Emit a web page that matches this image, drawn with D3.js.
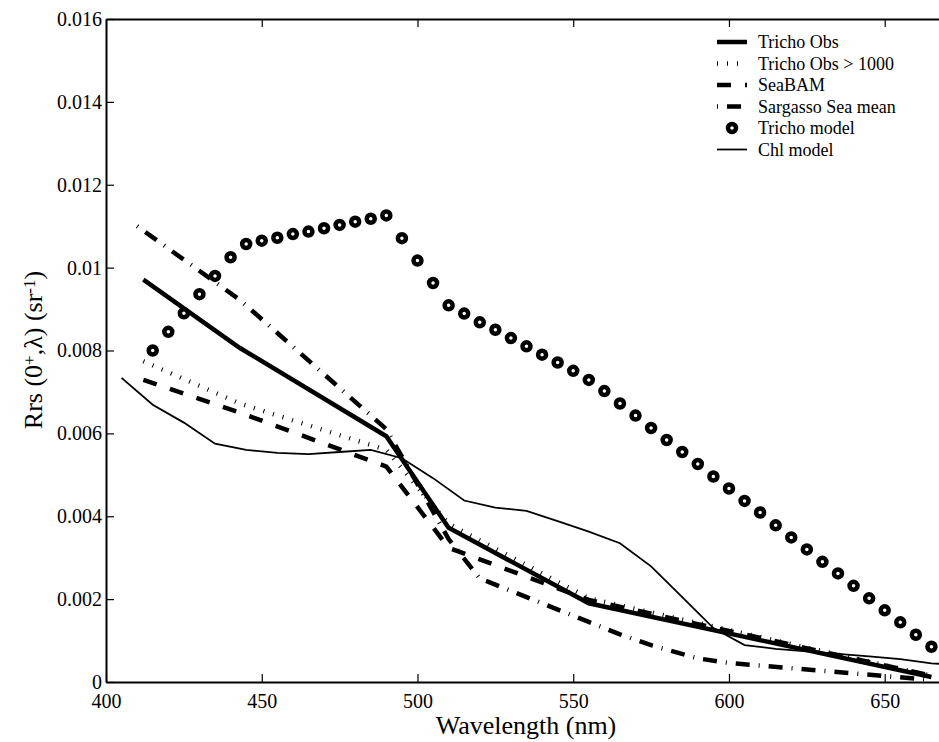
<!DOCTYPE html>
<html>
<head>
<meta charset="utf-8">
<title>Rrs spectra</title>
<style type="text/css">
    body{ margin:0; background:#fff; }
    svg text{ font-family:"Liberation Serif","Times New Roman",serif; fill:#000; }
</style>
</head>
<body>
<div id="chart"></div>

<script src="https://cdn.jsdelivr.net/npm/d3@7"></script>
<script type="text/javascript">

// ---- data (Rrs in sr^-1) ----
var obsWl      = [412, 443, 490, 510, 555, 665];
var trichoObs  = [0.00971, 0.00806, 0.00593, 0.00372, 0.00190, 0.00012];
var tricho1000 = [0.00774, 0.00672, 0.00560, 0.00382, 0.00202, 0.00015];
var seaBAM     = [0.00729, 0.00650, 0.00520, 0.00324, 0.00198, 0.00015];

var sargWl   = [410, 443, 490, 510, 520, 555, 565, 575, 590, 600, 665];
var sargasso = [0.01100, 0.00922, 0.00610, 0.00345, 0.00250, 0.00145, 0.00115, 0.00089, 0.00057, 0.00046, 0.00005];

var chlWl  = [405, 415, 425, 435, 445, 455, 465, 475, 485, 495, 505, 515, 525, 535, 545, 555, 565, 575, 585, 595, 605, 615, 625, 635, 645, 655, 665, 670];
var chlMod = [0.00734, 0.00669, 0.00626, 0.00575, 0.00560, 0.00553, 0.00550, 0.00555, 0.00560, 0.00540, 0.00492, 0.00438, 0.00421, 0.00413, 0.00388, 0.00363, 0.00335, 0.00279, 0.00205, 0.00130, 0.00089, 0.00080, 0.00074, 0.00068, 0.00062, 0.00055, 0.00045, 0.00043];

var modWl = d3.range(415, 666, 5);   // model output every 5 nm, 415..665
var trichoMod = [0.00800, 0.00845, 0.00890, 0.00936, 0.00980, 0.01025, 0.01057, 0.01065, 0.01072, 0.01081,
                 0.01087, 0.01095, 0.01103, 0.01111, 0.01118, 0.01126, 0.01071, 0.01017, 0.00963, 0.00909,
                 0.00889, 0.00868, 0.00850, 0.00830, 0.00810, 0.00790, 0.00771, 0.00751, 0.00729, 0.00702,
                 0.00672, 0.00643, 0.00613, 0.00584, 0.00555, 0.00526, 0.00496, 0.00467, 0.00437, 0.00409,
                 0.00378, 0.00349, 0.00320, 0.00290, 0.00262, 0.00232, 0.00202, 0.00173, 0.00144, 0.00114, 0.00085];

var xTicks = [400, 450, 500, 550, 600, 650];
var yTicks = [0, 0.002, 0.004, 0.006, 0.008, 0.01, 0.012, 0.014, 0.016];
var yTickLabels = ["0", "0.002", "0.004", "0.006", "0.008", "0.01", "0.012", "0.014", "0.016"];

var legendNames = ["Tricho Obs", "Tricho Obs > 1000", "SeaBAM", "Sargasso Sea mean", "Tricho model", "Chl model"];

// ---- size ----  (note: "top" is taken by window.top, so prefix them)
var width = 939, height = 742;
var pLeft = 106, pRight = 947, pTop = 19, pBottom = 682;

var x = d3.scaleLinear().domain([400, 670]).range([pLeft, pRight]);
var y = d3.scaleLinear().domain([0, 0.016]).range([pBottom, pTop]);

var svg = d3.select('#chart').append('svg')
    .attr('width', width)
    .attr('height', height);

/*-----------------------------------------------------------------------
    axes: matlab style box, ticks pointing in
-----------------------------------------------------------------------*/
var tickFont = 20;

svg.append('g').attr('transform', 'translate(0,' + pBottom + ')')
    .call(d3.axisBottom(x).tickValues(xTicks).tickSizeInner(-8).tickSizeOuter(0).tickPadding(12))
    .call(g => g.select('.domain').attr('stroke-width', 2));

svg.append('g').attr('transform', 'translate(0,' + pTop + ')')
    .call(d3.axisTop(x).tickValues(xTicks).tickSizeInner(-8).tickSizeOuter(0).tickFormat(''))
    .call(g => g.select('.domain').attr('stroke-width', 2));

svg.append('g').attr('transform', 'translate(' + pLeft + ',0)')
    .call(d3.axisLeft(y).tickValues(yTicks).tickSizeInner(-8).tickSizeOuter(0).tickPadding(4)
        .tickFormat((d, i) => yTickLabels[i]))
    .call(g => g.select('.domain').attr('stroke-width', 2));

svg.append('g').attr('transform', 'translate(' + pRight + ',0)')
    .call(d3.axisRight(y).tickValues(yTicks).tickSizeInner(-8).tickSizeOuter(0).tickFormat(''))
    .call(g => g.select('.domain').attr('stroke-width', 2));

svg.selectAll('.tick text')
    .style('font-family', '"Liberation Serif", serif')
    .style('font-size', tickFont + 'px');
svg.selectAll('.tick line').attr('stroke-width', 1.2);

// axis titles
svg.append('text')
    .attr('x', 526).attr('y', 734)
    .attr('text-anchor', 'middle')
    .style('font-size', '26px')
    .text('Wavelength (nm)');

var yt = svg.append('text')
    .attr('transform', 'translate(42,350) rotate(-90)')
    .attr('text-anchor', 'middle')
    .style('font-size', '26px');
yt.append('tspan').text('Rrs (0');
yt.append('tspan').attr('baseline-shift', '40%').style('font-size', '17px').text('+');
yt.append('tspan').text(',\u03bb) (sr');
yt.append('tspan').attr('baseline-shift', '40%').style('font-size', '17px').text('-1');
yt.append('tspan').text(')');

/*-----------------------------------------------------------------------
    series
-----------------------------------------------------------------------*/
var line = d3.line().x(d => x(d[0])).y(d => y(d[1]));
var pairs = (wl, v) => wl.map((w, i) => [w, v[i]]);

var styles = [
    {data: pairs(obsWl, trichoObs),  w: 4.5, dash: null},
    {data: pairs(obsWl, tricho1000), w: 4.5, dash: '1,9'},
    {data: pairs(obsWl, seaBAM),     w: 4.5, dash: '14,14'},
    {data: pairs(sargWl, sargasso),  w: 4.5, dash: '1,9,14,9'},
    {data: null},
    {data: pairs(chlWl, chlMod),     w: 1.8, dash: null}
];

svg.append('clipPath').attr('id', 'plotclip')
    .append('rect').attr('x', pLeft).attr('y', pTop).attr('width', pRight - pLeft).attr('height', pBottom - pTop);

var plot = svg.append('g').attr('clip-path', 'url(#plotclip)');

styles.forEach(function(s){
    if(!s.data) return;
    plot.append('path')
        .datum(s.data)
        .attr('d', line)
        .attr('fill', 'none')
        .attr('stroke', '#000')
        .attr('stroke-width', s.w)
        .attr('stroke-dasharray', s.dash)
        .attr('stroke-linejoin', 'miter');
});

plot.selectAll('circle.mod')
    .data(pairs(modWl, trichoMod))
    .enter().append('circle')
    .attr('class', 'mod')
    .attr('cx', d => x(d[0]))
    .attr('cy', d => y(d[1]))
    .attr('r', 4)
    .attr('fill', '#fff')
    .attr('stroke', '#000')
    .attr('stroke-width', 4.5);

/*-----------------------------------------------------------------------
    legend
-----------------------------------------------------------------------*/
var lg = svg.append('g').attr('transform', 'translate(717,42)');
var rowH = 21.5;

legendNames.forEach(function(name, i){
    var s = styles[i];
    var row = lg.append('g').attr('transform', 'translate(0,' + (i * rowH) + ')');
    if(s.data){
        row.append('line')
            .attr('x1', 0).attr('x2', 30).attr('y1', 0).attr('y2', 0)
            .attr('stroke', '#000')
            .attr('stroke-width', s.w)
            .attr('stroke-dasharray', s.dash);
    } else {
        row.append('circle').attr('cx', 15).attr('cy', 0).attr('r', 4)
            .attr('fill', '#fff').attr('stroke', '#000').attr('stroke-width', 4.5);
    }
    row.append('text')
        .attr('x', 41).attr('y', 6)
        .style('font-size', '18px')
        .text(name);
});

</script>
</body>
</html>
